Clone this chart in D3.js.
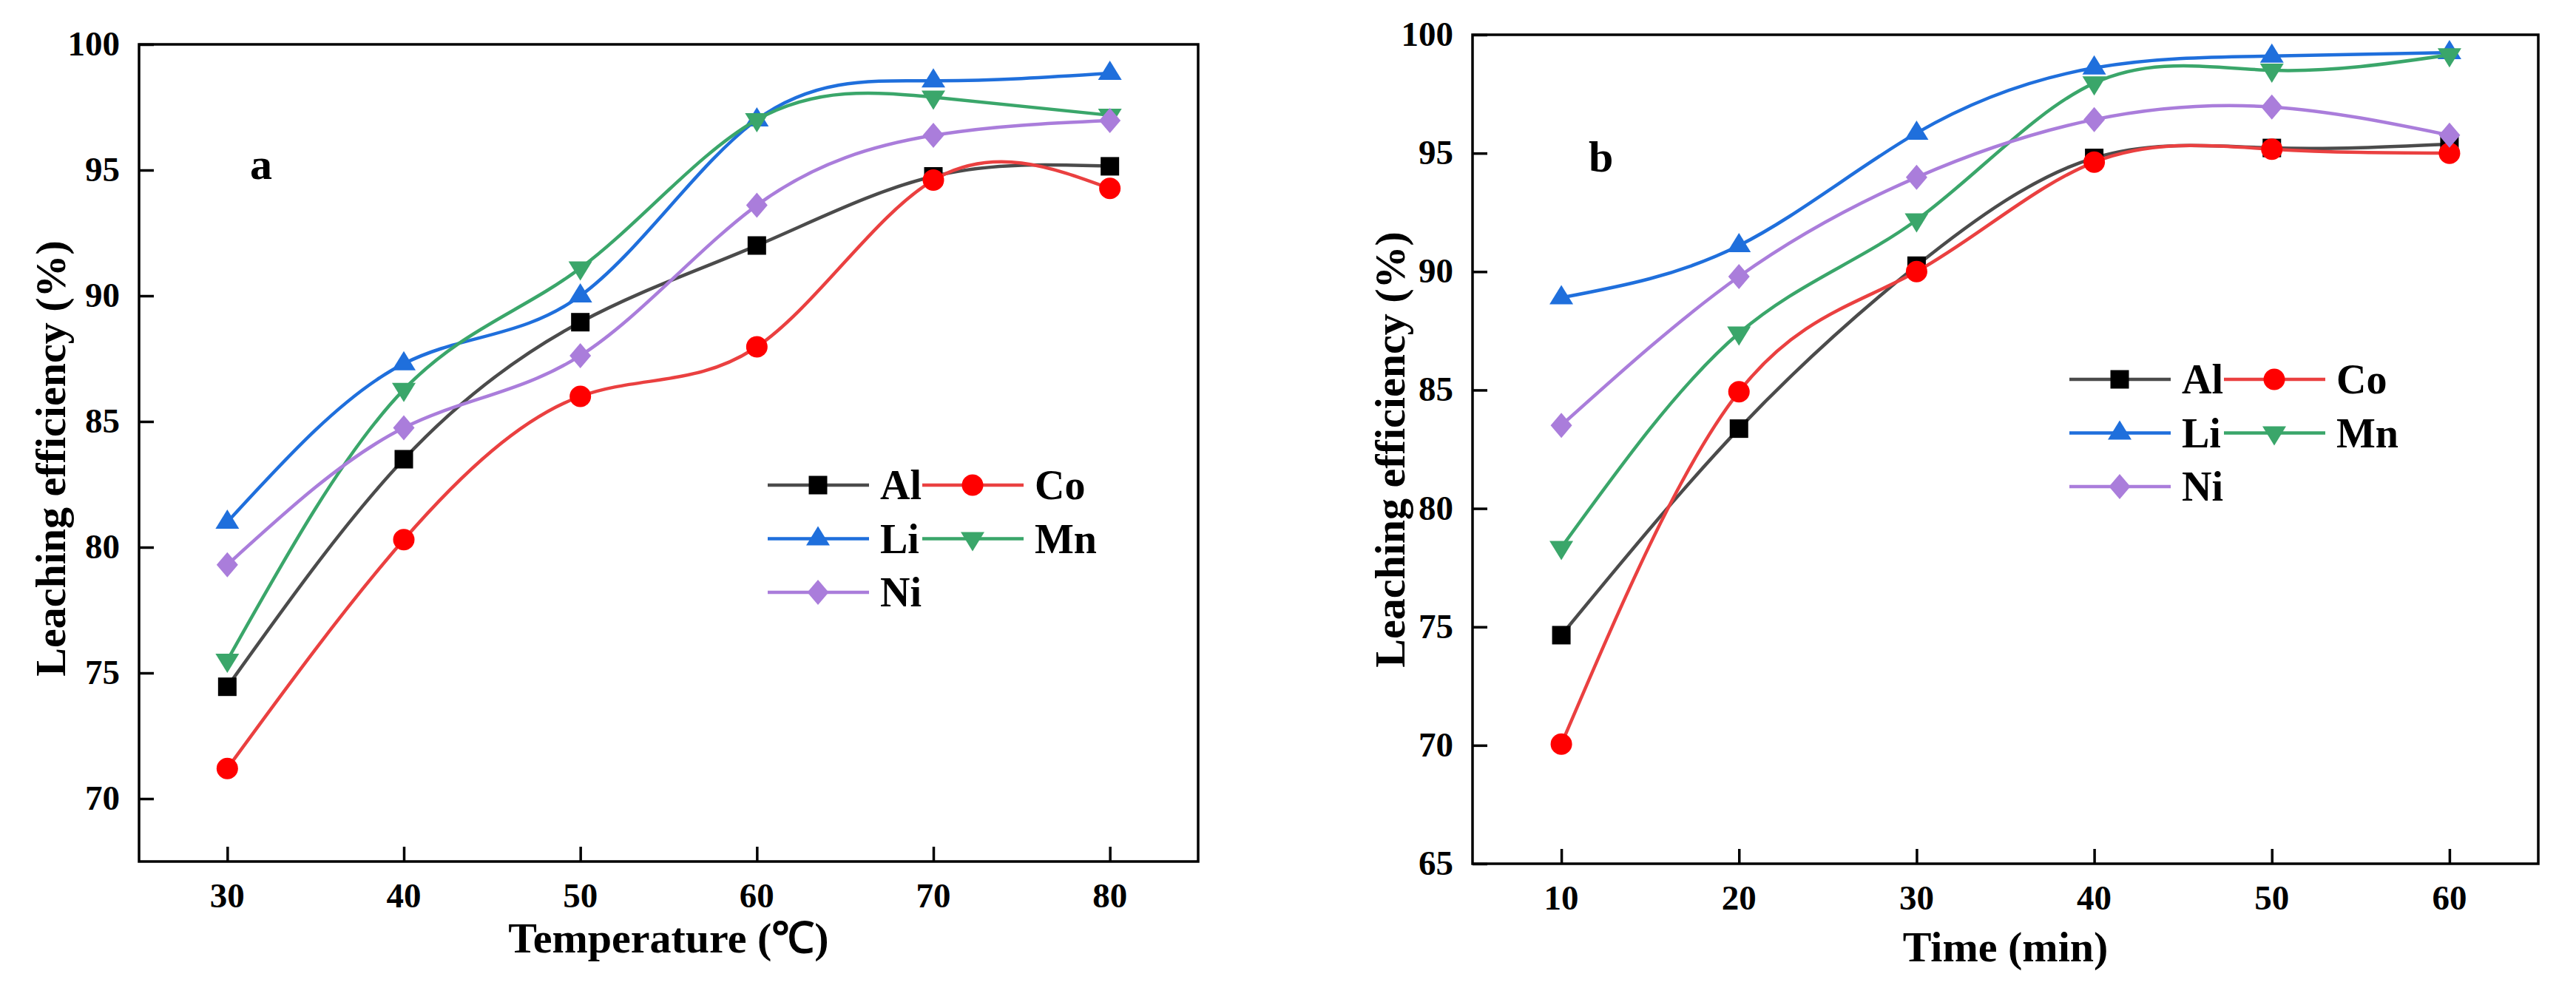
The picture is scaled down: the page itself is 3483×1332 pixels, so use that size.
<!DOCTYPE html>
<html>
<head>
<meta charset="utf-8">
<title>Leaching efficiency</title>
<script src="https://cdn.jsdelivr.net/npm/d3@7"></script>
<style>
  html, body { margin: 0; padding: 0; background: #fff; }
  svg text {
    font-family: "Liberation Serif", "Times New Roman", serif;
    font-weight: bold;
    fill: #000;
  }
</style>
</head>
<body>
<svg id="chart" width="3483" height="1332"></svg>
<script>
// panel a: leaching efficiency vs temperature
var tempX  = [30, 40, 50, 60, 70, 80];
var tempAl = [74.45, 83.5, 88.95, 92.0, 94.75, 95.15];
var tempCo = [71.2, 80.3, 86.0, 87.97, 94.6, 94.27];
var tempLi = [81.0, 87.3, 90.0, 97.0, 98.55, 98.85];
var tempMn = [75.5, 86.27, 91.1, 97.0, 97.9, 97.18];
var tempNi = [79.3, 84.75, 87.62, 93.6, 96.38, 96.97];

// panel b: leaching efficiency vs time
var timeX  = [10, 20, 30, 40, 50, 60];
var timeAl = [74.65, 83.37, 90.25, 94.8, 95.22, 95.38];
var timeCo = [70.05, 84.93, 90.0, 94.62, 95.17, 95.0];
var timeLi = [88.9, 91.1, 95.85, 98.6, 99.1, 99.25];
var timeMn = [78.35, 87.4, 92.18, 97.96, 98.5, 99.15];
var timeNi = [83.51, 89.79, 93.98, 96.42, 96.95, 95.76];

var elements = ["Al", "Co", "Li", "Mn", "Ni"];
var yTicksA = [70, 75, 80, 85, 90, 95, 100];
var yTicksB = [65, 70, 75, 80, 85, 90, 95, 100];

// look of each element (line colour, marker colour, marker shape)
var look = {
  Al: { line: "#4b4b4b", fill: "#000000", shape: "square" },
  Co: { line: "#ea4040", fill: "#ff0000", shape: "circle" },
  Li: { line: "#1f6fdc", fill: "#1f6fdc", shape: "up" },
  Mn: { line: "#3aa66a", fill: "#3aa66a", shape: "down" },
  Ni: { line: "#aa7ddb", fill: "#aa7ddb", shape: "diamond" }
};

// marker outlines centred on 0,0
function markerPath(shape) {
  switch (shape) {
    case "square":  return "M-12.5,-12.5H12.5V12.5H-12.5Z";
    case "circle":  return "M-14.5,0A14.5,14.5 0 1,0 14.5,0A14.5,14.5 0 1,0 -14.5,0Z";
    case "up":      return "M0,-17L16,9L-16,9Z";
    case "down":    return "M0,17L16,-9L-16,-9Z";
    case "diamond": return "M0,-17L14.5,0L0,17L-14.5,0Z";
  }
}

var svg = d3.select("#chart");

function drawPanel(p) {
  var x = d3.scaleLinear().domain(p.xDomain).range([p.left, p.right]);
  var y = d3.scaleLinear().domain(p.yDomain).range([p.bottom, p.top]);
  var g = svg.append("g");

  // ticks on the left and bottom, pointing inward
  var yAxis = g.append("g").attr("transform", "translate(" + p.left + ",0)")
    .call(d3.axisRight(y).tickValues(p.yTicks).tickSize(20).tickFormat(""));
  var xAxis = g.append("g").attr("transform", "translate(0," + p.bottom + ")")
    .call(d3.axisTop(x).tickValues(p.xTicks).tickSize(20).tickFormat(""));
  g.selectAll(".domain").remove();
  g.selectAll(".tick line").attr("stroke", "#000").attr("stroke-width", 3.5);

  g.selectAll(".ylab").data(p.yTicks).enter().append("text")
    .attr("x", p.left - 26).attr("y", function(d) { return y(d) + 15; })
    .attr("text-anchor", "end").style("font-size", "47px")
    .text(function(d) { return d; });
  g.selectAll(".xlab").data(p.xTicks).enter().append("text")
    .attr("x", function(d) { return x(d); }).attr("y", p.bottom + 62)
    .attr("text-anchor", "middle").style("font-size", "47px")
    .text(function(d) { return d; });

  // curves and markers, one element at a time
  var line = d3.line()
    .x(function(d) { return x(d[0]); })
    .y(function(d) { return y(d[1]); })
    .curve(d3.curveNatural);

  elements.forEach(function(el, i) {
    var pts = p.xs.map(function(v, j) { return [v, p.series[i][j]]; });
    g.append("path").datum(pts)
      .attr("d", line).attr("fill", "none")
      .attr("stroke", look[el].line).attr("stroke-width", 4.5);
    g.selectAll(".m" + el).data(pts).enter().append("path")
      .attr("d", markerPath(look[el].shape))
      .attr("transform", function(d) { return "translate(" + x(d[0]) + "," + y(d[1]) + ")"; })
      .attr("fill", look[el].fill);
  });

  // frame
  g.append("rect")
    .attr("x", p.left).attr("y", p.top)
    .attr("width", p.right - p.left).attr("height", p.bottom - p.top)
    .attr("fill", "none").attr("stroke", "#000").attr("stroke-width", 3.5);

  // legend, two columns
  elements.forEach(function(el, i) {
    var lx = p.legendX + (i % 2) * 209,
        ly = p.legendY + Math.floor(i / 2) * 72.5;
    g.append("line")
      .attr("x1", lx).attr("x2", lx + 137).attr("y1", ly).attr("y2", ly)
      .attr("stroke", look[el].line).attr("stroke-width", 4.5);
    g.append("path").attr("d", markerPath(look[el].shape))
      .attr("transform", "translate(" + (lx + 68) + "," + ly + ")")
      .attr("fill", look[el].fill);
    g.append("text").attr("x", lx + 152).attr("y", ly + 19)
      .style("font-size", "56px").text(el);
  });

  g.append("text").attr("x", p.letterX).attr("y", p.letterY)
    .style("font-size", "60px").text(p.letter);

  g.append("text")
    .attr("x", (p.left + p.right) / 2).attr("y", p.xTitleY)
    .attr("text-anchor", "middle").style("font-size", "58px")
    .text(p.xTitle);
  g.append("text")
    .attr("transform", "translate(" + p.yTitleX + "," + p.yTitleMid + ") rotate(-90)")
    .attr("text-anchor", "middle").style("font-size", "58px")
    .text("Leaching efficiency (%)");
}

drawPanel({
  left: 188, right: 1620, top: 60, bottom: 1165,
  xDomain: [25, 85], yDomain: [67.5, 100],
  xTicks: tempX, yTicks: yTicksA, xs: tempX,
  series: [tempAl, tempCo, tempLi, tempMn, tempNi],
  legendX: 1038, legendY: 656,
  letter: "a", letterX: 338, letterY: 242,
  xTitle: "Temperature (\u2103)", xTitleY: 1288,
  yTitleX: 88, yTitleMid: 620
});

drawPanel({
  left: 1991, right: 3432, top: 47, bottom: 1168,
  xDomain: [5, 65], yDomain: [65, 100],
  xTicks: timeX, yTicks: yTicksB, xs: timeX,
  series: [timeAl, timeCo, timeLi, timeMn, timeNi],
  legendX: 2798, legendY: 513,
  letter: "b", letterX: 2148, letterY: 232,
  xTitle: "Time (min)", xTitleY: 1300,
  yTitleX: 1899, yTitleMid: 608
});
</script>
</body>
</html>
